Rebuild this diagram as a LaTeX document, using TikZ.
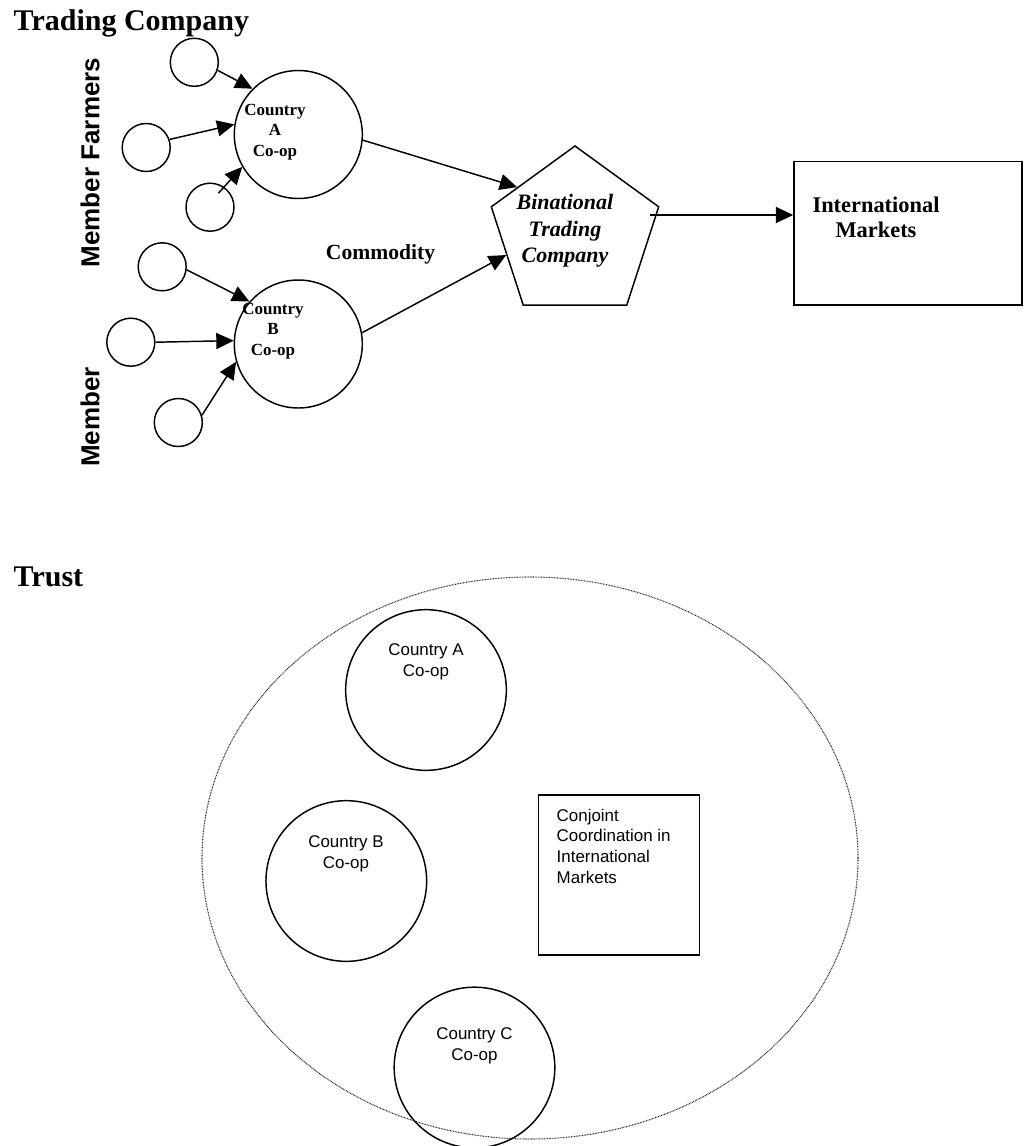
\documentclass[tikz,border=0pt]{standalone}
\usepackage{fontspec}
\setmainfont{Liberation Serif}
\setsansfont{Liberation Sans}
\usetikzlibrary{arrows.meta,calc,shapes.geometric}
\tikzset{>={Triangle[length=13pt,width=12pt]},
  heading/.style={font=\fontsize{22.5}{27}\selectfont\bfseries,anchor=base west,inner sep=0pt},
  sidelabel/.style={font=\sffamily\bfseries\fontsize{19.5}{23}\selectfont,rotate=90,inner sep=0pt},
  farmer/.style={draw,circle,minimum size=36pt,inner sep=0pt},
  coop/.style={draw,circle,minimum size=96pt,inner sep=0pt},
  cooptext/.style={font=\bfseries\fontsize{12.75}{15.4}\selectfont,align=center,inner sep=0pt},
  bigtext/.style={font=\bfseries\fontsize{16.8}{18.8}\selectfont,align=center,inner sep=0pt},
  flow/.style={->},
  ring/.style={draw,circle,minimum size=120.5pt,inner sep=0pt},
  ringtext/.style={font=\sffamily\fontsize{12.7}{15.5}\selectfont,align=center,inner sep=0pt},
  trustline/.style={draw=black!85,line width=.8pt,dash pattern=on .6pt off .6pt}}

\begin{document}
\begin{tikzpicture}[x=.75pt,y=-.75pt,line width=1.1pt]
\useasboundingbox (0,0) rectangle (1025,1146);
% trading company
\node[heading] (ttl) at (13,30.7) {Trading Company};
\node[sidelabel] (mfarm) at (90,162.5) {Member Farmers};
\node[sidelabel] (mbr) at (90,417) {Member};
\node[farmer] (fa1) at (194.3,62.3) {};
\node[farmer] (fa2) at (146.2,147.5) {};
\node[farmer] (fa3) at (210,207.2) {};
\node[farmer] (fb1) at (162.2,266.8) {};
\node[farmer] (fb2) at (130.8,342.2) {};
\node[farmer] (fb3) at (178.3,422.5) {};
\node[coop] (coopA) at (298.3,134.5) {};
\node[coop] (coopB) at (298.3,344) {};
\node[cooptext] (coopAtxt) at (275,132) {Country\\A\\Co-op};
\node[cooptext] (coopBtxt) at (273,331) {Country\\B\\Co-op};
\node[font=\bfseries\fontsize{16.2}{19}\selectfont] (cmdty) at (380.5,254.3) {Commodity};
\node[draw,regular polygon,regular polygon sides=5,minimum size=132pt,inner sep=0pt] (btc) at (575,234) {};
\node[bigtext,font=\bfseries\itshape\fontsize{16.5}{19.9}\selectfont] (btctxt) at (565,231) {Binational\\Trading\\Company};
\node[draw,minimum width=171pt,minimum height=107.5pt,inner sep=0pt] (mkt) at (908,233.4) {};
\node[bigtext] (mkttxt) at (876,217) {International\\Markets};
\coordinate (btcout) at (650,215);
\draw[flow] (fa1.-19) -- (coopA.135);
\draw[flow] (fa2.19) -- (coopA.171);
\draw[flow] ($(fa3.center)!.66!(fa3.59)$) -- (coopA.210);
\draw[flow] (fb1.-7) -- (coopB.139);
\draw[flow] (fb2.east) -- (coopB.177);
\draw[flow] (fb3.17) -- (coopB.196);
\draw[flow] (coopA.-5) -- (btc.141);
\draw[flow] (coopB.10) -- (btc.197);
\draw[flow] (btcout) -- (btcout -| mkt.west);
% trust
\node[heading] (trst) at (13,586.7) {Trust};
\node[trustline,ellipse,minimum width=492pt,minimum height=421.5pt,inner sep=0pt] (trustring) at (530,858) {};
\node[ring] (ringA) at (426,690) {};
\node[ring] (ringB) at (346.3,881) {};
\node[ring] (ringC) at (474.5,1067.5) {};
\node[ringtext] (ringAtxt) at (426,662) {Country A\\Co-op};
\node[ringtext] (ringBtxt) at (346,854) {Country B\\Co-op};
\node[ringtext] (ringCtxt) at (474.5,1045.5) {Country C\\Co-op};
\node[draw,minimum width=120.75pt,minimum height=120pt,inner sep=0pt] (conj) at (618.8,875) {};
\node[ringtext,align=left,anchor=west] (conjtxt) at (556,846) {Conjoint\\Coordination in\\International\\Markets};
\end{tikzpicture}
\end{document}
